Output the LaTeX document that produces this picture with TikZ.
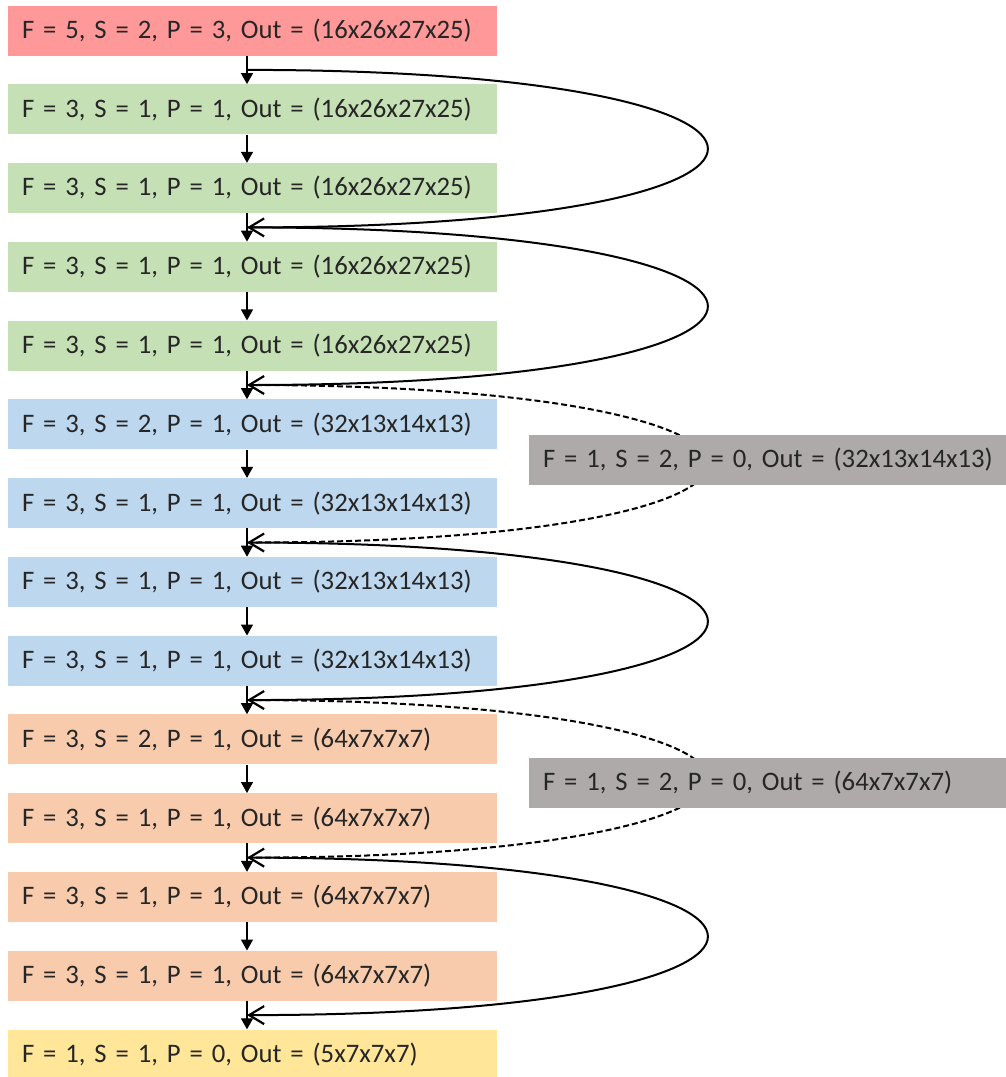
\documentclass[tikz,border=0pt]{standalone}
\usepackage{fontspec}
\setmainfont{Carlito}
\usetikzlibrary{arrows.meta,calc}
\definecolor{cred}{HTML}{FF9999}
\definecolor{cgreen}{HTML}{C5E0B4}
\definecolor{cblue}{HTML}{BDD7EE}
\definecolor{corange}{HTML}{F8CBAD}
\definecolor{cyellow}{HTML}{FFE699}
\definecolor{cgrey}{HTML}{AEAAAA}
\definecolor{ctext}{HTML}{262626}
\tikzset{
  layerbox/.style={rectangle, minimum height=50pt, text width=461pt, inner xsep=14pt, inner ysep=0pt, align=left, font=\fontsize{26.7}{32}\selectfont, text=ctext, anchor=center},
  greybox/.style={rectangle, fill=cgrey, minimum height=50pt, text width=449pt, inner xsep=14pt, inner ysep=0pt, align=left, font=\fontsize{26.7}{32}\selectfont, text=ctext},
  varrow/.style={line width=1.3pt, -{Triangle[length=11pt,width=12pt]}},
  skiparrow/.style={line width=2pt, -{Straight Barb[length=15pt,width=18pt,line width=2.2pt]}},
  dskiparrow/.style={skiparrow, dash pattern=on 6pt off 3pt},
}
\begin{document}
\begin{tikzpicture}[x=1pt,y=-1pt]
\useasboundingbox (0,0) rectangle (1006,1077);
\node[layerbox, fill=cred]    (b0)  at (252.5, 30.5) {F = 5, S = 2, P = 3, Out = (16x26x27x25)};
\node[layerbox, fill=cgreen]  (b1)  at (252.5, 109.3) {F = 3, S = 1, P = 1, Out = (16x26x27x25)};
\node[layerbox, fill=cgreen]  (b2)  at (252.5, 188.0) {F = 3, S = 1, P = 1, Out = (16x26x27x25)};
\node[layerbox, fill=cgreen]  (b3)  at (252.5, 266.8) {F = 3, S = 1, P = 1, Out = (16x26x27x25)};
\node[layerbox, fill=cgreen]  (b4)  at (252.5, 345.6) {F = 3, S = 1, P = 1, Out = (16x26x27x25)};
\node[layerbox, fill=cblue]   (b5)  at (252.5, 424.4) {F = 3, S = 2, P = 1, Out = (32x13x14x13)};
\node[layerbox, fill=cblue]   (b6)  at (252.5, 503.1) {F = 3, S = 1, P = 1, Out = (32x13x14x13)};
\node[layerbox, fill=cblue]   (b7)  at (252.5, 581.9) {F = 3, S = 1, P = 1, Out = (32x13x14x13)};
\node[layerbox, fill=cblue]   (b8)  at (252.5, 660.7) {F = 3, S = 1, P = 1, Out = (32x13x14x13)};
\node[layerbox, fill=corange] (b9)  at (252.5, 739.4) {F = 3, S = 2, P = 1, Out = (64x7x7x7)};
\node[layerbox, fill=corange] (b10) at (252.5, 818.2) {F = 3, S = 1, P = 1, Out = (64x7x7x7)};
\node[layerbox, fill=corange] (b11) at (252.5, 897.0) {F = 3, S = 1, P = 1, Out = (64x7x7x7)};
\node[layerbox, fill=corange] (b12) at (252.5, 975.7) {F = 3, S = 1, P = 1, Out = (64x7x7x7)};
\node[layerbox, fill=cyellow] (b13) at (252.5, 1054.5) {F = 1, S = 1, P = 0, Out = (5x7x7x7)};
% vertical arrows
\foreach \a/\b in {b0/b1,b1/b2,b2/b3,b3/b4,b4/b5,b5/b6,b6/b7,b7/b8,b8/b9,b9/b10,b10/b11,b11/b12,b12/b13}{
  \draw[varrow] ([xshift=-5.5pt]\a.south) -- ([xshift=-5.5pt]\b.north);
}
% gap coordinates
\foreach \a/\b/\g in {b0/b1/g0,b2/b3/g2,b4/b5/g4,b6/b7/g6,b8/b9/g8,b10/b11/g10,b12/b13/g12}{
  \coordinate (\g) at ($(\a.south)!0.5!(\b.north)+(-5.5,0)$);
}
% skip connections
\draw[skiparrow]  (g0)  .. controls +(614,0) and +(614,0) .. (g2);
\draw[skiparrow]  (g2)  .. controls +(614,0) and +(614,0) .. (g4);
\draw[dskiparrow] (g4)  .. controls +(614,0) and +(614,0) .. (g6);
\draw[skiparrow]  (g6)  .. controls +(614,0) and +(614,0) .. (g8);
\draw[dskiparrow] (g8)  .. controls +(614,0) and +(614,0) .. (g10);
\draw[skiparrow]  (g10) .. controls +(614,0) and +(614,0) .. (g12);
% projection boxes
\node[greybox] (p1) at (767.5, 460) {\mbox{F = 1, S = 2, P = 0, Out = (32x13x14x13)}};
\node[greybox] (p2) at (767.5, 782.5) {\mbox{F = 1, S = 2, P = 0, Out = (64x7x7x7)}};
\end{tikzpicture}
\end{document}
